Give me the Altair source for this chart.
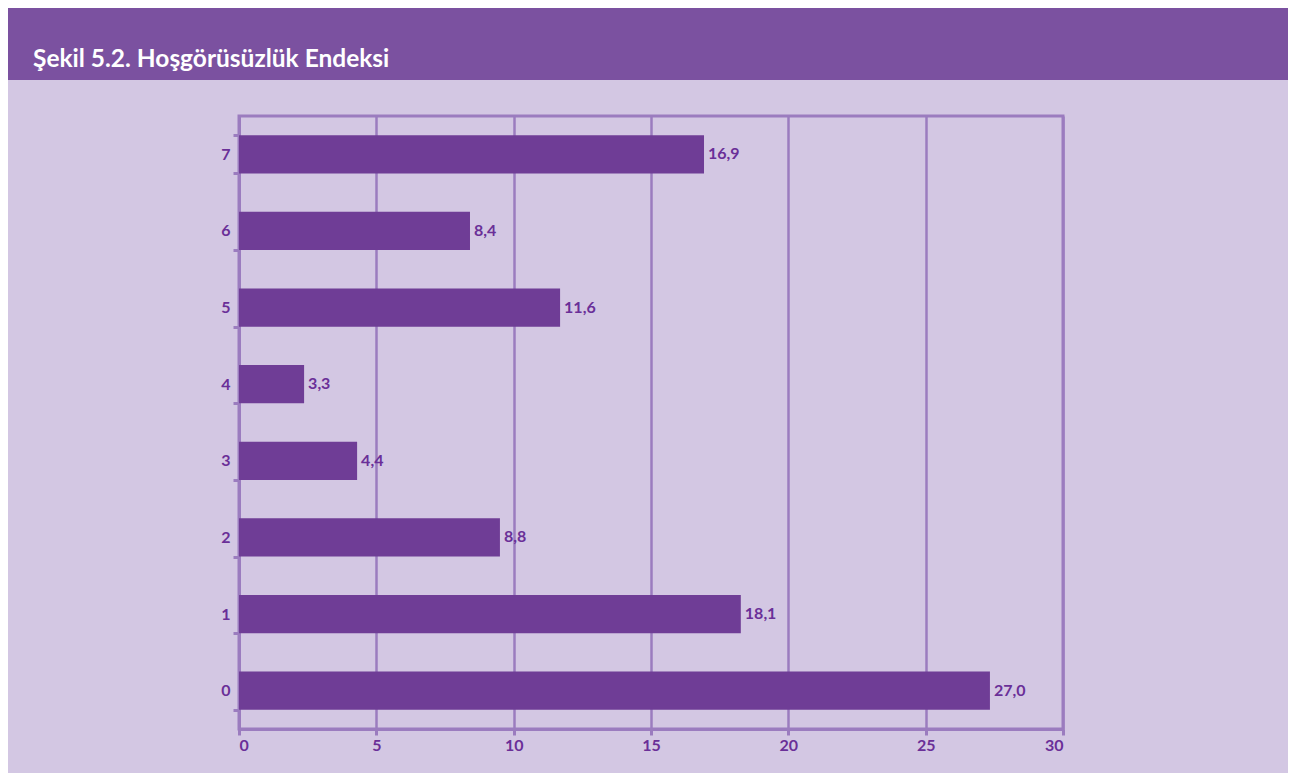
import altair as alt
import pandas as pd

categories = ["7", "6", "5", "4", "3", "2", "1", "0"]
bar_values = [16.93, 8.41, 11.69, 2.37, 4.30, 9.50, 18.27, 27.34]
value_labels = ["16,9", "8,4", "11,6", "3,3", "4,4", "8,8", "18,1", "27,0"]
title_text = "Şekil 5.2. Hoşgörüsüzlük Endeksi"
x_ticks = [0, 5, 10, 15, 20, 25, 30]

df = pd.DataFrame({"cat": categories, "val": bar_values, "lab": value_labels})

BG = "#d3c7e3"
HEADER = "#7b51a0"
BAR = "#6f3d96"
LINE = "#9b7cbf"
TEXT = "#6a2f98"
FONT = "Lato"

W, H = 824, 613
PL, PT, PR, PB = 231, 108, 225, 44

y_enc = alt.Y(
    "cat:N",
    sort=categories,
    title=None,
    scale=alt.Scale(paddingInner=0.5, paddingOuter=0.25),
    axis=alt.Axis(
        tickBand="extent",
        domainColor=LINE,
        domainWidth=3,
        tickColor=LINE,
        tickWidth=3,
        tickSize=6,
        labelColor=TEXT,
        labelFont=FONT,
        labelFontWeight="bold",
        labelFontSize=16,
        labelPadding=3,
        grid=False,
    ),
)
x_enc = alt.X(
    "val:Q",
    title=None,
    scale=alt.Scale(domain=[0, 30], nice=False),
    axis=alt.Axis(
        values=x_ticks,
        domainColor=LINE,
        domainWidth=3,
        tickColor=LINE,
        tickWidth=3,
        tickSize=6,
        labelColor=TEXT,
        labelFont=FONT,
        labelFontWeight="bold",
        labelFontSize=16,
        labelPadding=2,
        grid=True,
        gridColor=LINE,
        gridWidth=2.5,
        gridOpacity=1,
    ),
)

bars = alt.Chart(df).mark_bar(color=BAR, cornerRadius=0).encode(x=x_enc, y=y_enc)

labels = alt.Chart(df).mark_text(
    align="left", baseline="middle", dx=4, color=TEXT, font=FONT,
    fontWeight="bold", fontSize=16
).encode(x=alt.X("val:Q"), y=alt.Y("cat:N", sort=categories), text="lab:N")

hdr_df = pd.DataFrame({"t": [title_text]})
header = alt.Chart(hdr_df).mark_rect(color=HEADER).encode(
    x=alt.value(-PL - 4), x2=alt.value(W + PR),
    y=alt.value(-PT - 8), y2=alt.value(-36),
)
header_text = alt.Chart(hdr_df).mark_text(
    align="left", baseline="alphabetic", color="white", font=FONT,
    fontWeight="bold", fontSize=24.5
).encode(x=alt.value(-PL + 25), y=alt.value(-PT + 59), text="t:N")

chart = alt.layer(header, header_text, bars, labels).properties(
    width=W, height=H,
    padding={"left": PL, "top": PT, "right": PR, "bottom": PB},
    autosize=alt.AutoSizeParams(type="none"),
    background=BG,
).configure_view(stroke=LINE, strokeWidth=3)

chart.save("out.html", embed_options={"renderer": "svg", "actions": False})
